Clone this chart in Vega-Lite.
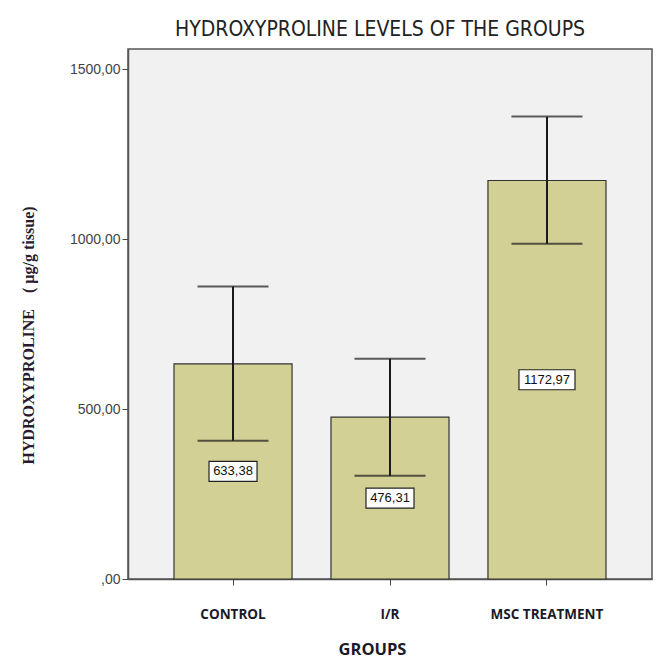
{
  "$schema": "https://vega.github.io/schema/vega-lite/v6.json",
  "autosize": {"type": "none"},
  "width": 524,
  "height": 530,
  "padding": {"left": 128, "top": 49, "right": 15, "bottom": 85},
  "background": "white",
  "title": {
    "text": "HYDROXYPROLINE LEVELS OF THE GROUPS",
    "font": "'DejaVu Sans Condensed', 'Liberation Sans', sans-serif",
    "fontSize": 21,
    "fontWeight": "normal",
    "color": "#222222",
    "anchor": "middle",
    "dx": -10,
    "offset": 9
  },
  "data": {
    "values": [
      {"group": "CONTROL", "mean": 633.38, "label": "633,38", "lo": 407, "hi": 861},
      {"group": "I/R", "mean": 476.31, "label": "476,31", "lo": 304, "hi": 648},
      {"group": "MSC TREATMENT", "mean": 1172.97, "label": "1172,97", "lo": 987, "hi": 1361}
    ]
  },
  "encoding": {
    "x": {
      "field": "group",
      "type": "nominal",
      "sort": null,
      "scale": {"paddingInner": 0.248, "paddingOuter": 0.293},
      "axis": {
        "title": "GROUPS",
        "titleFont": "Open Sans",
        "titleFontSize": 16.5,
        "titleFontWeight": "bold",
        "titleColor": "#1a1a2a",
        "titleX": 244,
        "titleY": 70,
        "titleAlign": "center",
        "titleBaseline": "middle",
        "labelAngle": 0,
        "labelFont": "Open Sans",
        "labelFontSize": 13.5,
        "labelFontWeight": "bold",
        "labelColor": "#1a1a2a",
        "labelPadding": 22,
        "tickSize": 6,
        "tickColor": "#444444",
        "domainColor": "#555555",
        "domainWidth": 1.5
      }
    }
  },
  "layer": [
    {
      "layer": [
        {
          "mark": {"type": "bar", "color": "#d3d096", "stroke": "#333333", "strokeWidth": 1.2},
          "encoding": {
            "y": {
              "field": "mean",
              "type": "quantitative",
              "scale": {"domain": [0, 1560], "nice": false, "zero": true},
              "axis": {
                "values": [0, 500, 1000, 1500],
                "labelExpr": "datum.value == 0 ? ',00' : datum.value + ',00'",
                "labelFont": "Liberation Sans",
                "labelFontSize": 14,
                "labelColor": "#444444",
                "labelPadding": 2,
                "tickSize": 6,
                "tickColor": "#444444",
                "domainColor": "#555555",
                "domainWidth": 1.5,
                "grid": false,
                "title": "HYDROXYPROLINE\u00a0\u00a0\u00a0\u00a0( µg/g tissue)",
                "titleFont": "Liberation Serif",
                "titleFontSize": 16,
                "titleFontWeight": "bold",
                "titleColor": "#2a1a30",
                "titleAngle": -90,
                "titleX": -100,
                "titleY": 286,
                "titleAlign": "center",
                "titleBaseline": "middle"
              }
            }
          }
        },
        {
          "mark": {"type": "rule", "color": "#1a1a1a", "strokeWidth": 2},
          "encoding": {
            "y": {"field": "lo", "type": "quantitative"},
            "y2": {"field": "hi"}
          }
        },
        {
          "mark": {"type": "tick", "color": "#1a1a1a", "thickness": 2, "size": 71},
          "encoding": {"y": {"field": "lo", "type": "quantitative"}}
        },
        {
          "mark": {"type": "tick", "color": "#1a1a1a", "thickness": 2, "size": 71},
          "encoding": {"y": {"field": "hi", "type": "quantitative"}}
        }
      ]
    },
    {
      "encoding": {
        "y": {
          "field": "mean",
          "type": "quantitative",
          "scale": {"domain": [0, 3120], "nice": false, "zero": true},
          "axis": null
        }
      },
      "layer": [
        {
          "mark": {"type": "point", "filled": true, "fill": "white", "stroke": "#222222", "strokeWidth": 1.2, "opacity": 1, "size": 3136},
          "encoding": {
            "shape": {
              "field": "group",
              "type": "nominal",
              "scale": {
                "domain": ["CONTROL", "I/R", "MSC TREATMENT"],
                "range": [
                  "M-0.857,-0.357L0.857,-0.357L0.857,0.357L-0.857,0.357Z",
                  "M-0.857,-0.357L0.857,-0.357L0.857,0.357L-0.857,0.357Z",
                  "M-1,-0.357L1,-0.357L1,0.357L-1,0.357Z"
                ]
              },
              "legend": null
            }
          }
        },
        {
          "mark": {"type": "text", "font": "Liberation Sans", "fontSize": 13, "color": "#111111", "baseline": "middle", "align": "center"},
          "encoding": {"text": {"field": "label"}}
        }
      ]
    }
  ],
  "resolve": {"scale": {"y": "independent"}, "axis": {"y": "independent"}},
  "config": {
    "view": {"fill": "#f1f1f1", "stroke": "#555555", "strokeWidth": 1.5}
  }
}
